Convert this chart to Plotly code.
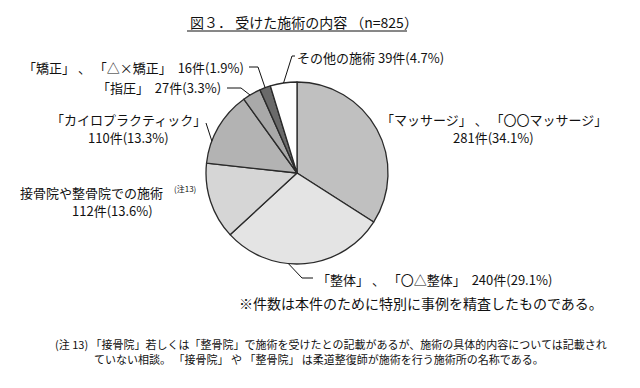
import math
import plotly.graph_objects as go

# ---- data ----
categories = ["「マッサージ」 、 「〇〇マッサージ」", "「整体」 、 「〇△整体」", "接骨院や整骨院での施術",
              "「カイロプラクティック」", "「指圧」", "「矯正」 、 「△×矯正」", "その他の施術"]
counts = [281, 240, 112, 110, 27, 16, 39]
percents = ["34.1", "29.1", "13.6", "13.3", "3.3", "1.9", "4.7"]
colors = ["#c0c0c0", "#e4e4e4", "#d6d6d6", "#b3b3b3", "#a9a9a9", "#6a6a6a", "#ffffff"]
title = "図３． 受けた施術の内容 （n=825）"
note_star = "※件数は本件のために特別に事例を精査したものである。"
note_1 = "(注 13) 「接骨院」若しくは「整骨院」で施術を受けたとの記載があるが、施術の具体的内容については記載され"
note_2 = "ていない相談。 「接骨院」 や 「整骨院」 は柔道整復師が施術を行う施術所の名称である。"

W, H = 640, 388
CX, CY, R = 297, 173, 91
FONT = "Noto Sans CJK JP, Noto Sans, sans-serif"


def px(x, y):
    return x / W, 1 - y / H


fig = go.Figure(go.Pie(
    labels=categories, values=counts, sort=False, direction="clockwise", rotation=0,
    marker=dict(colors=colors, line=dict(color="#2a2a2a", width=1.3)),
    textinfo="none", hoverinfo="label+value", showlegend=False,
    domain=dict(x=[(CX - R) / W, (CX + R) / W], y=[1 - (CY + R) / H, 1 - (CY - R) / H]),
))

total = sum(counts)
cum = [0]
for c in counts:
    cum.append(cum[-1] + c)


def edge(i, t):
    f = (cum[i] + t * counts[i]) / total
    a = 2 * math.pi * f
    return CX + R * math.sin(a), CY - R * math.cos(a)


def lbl(i):
    return f"{counts[i]}件({percents[i]}%)"


annotations = []
shapes = []


def text(x, y, s, anchor="center", size=13):
    xx, yy = px(x, y)
    annotations.append(dict(x=xx, y=yy, xref="paper", yref="paper", text=s, showarrow=False,
                            xanchor=anchor, yanchor="middle",
                            font=dict(family=FONT, size=size, color="#111")))


def path(points):
    d = ""
    for k, (x, y) in enumerate(points):
        xx, yy = px(x, y)
        d += ("M" if k == 0 else "L") + f"{xx},{yy} "
    shapes.append(dict(type="path", path=d, xref="paper", yref="paper",
                       line=dict(color="#111", width=1)))


# title + underline
text(188, 22, title, anchor="left", size=14)
path([(187, 31), (407, 31)])

# labels
text(494, 119, categories[0])
text(493, 137.5, lbl(0))
text(315, 279, categories[1] + "  " + lbl(1), anchor="left")
path([edge(1, 0.6), (302, 278), (313, 278)])
text(18, 192, categories[2], anchor="left")
text(172, 188, "(注13)", anchor="left", size=8)
text(112, 211, lbl(2))
text(128, 119, categories[3])
text(128, 137.5, lbl(3))
path([(206, 123), edge(3, 0.3)])
text(223, 88, categories[4] + "  " + lbl(4), anchor="right")
path([(227, 88), (241, 88), edge(4, 0.4)])
text(246, 67, categories[5] + "  " + lbl(5), anchor="right")
path([(249, 67), (258, 67), edge(5, 0.5)])
text(295, 57, categories[6] + " " + lbl(6), anchor="left")
path([(295, 56), (292, 56), edge(6, 0.5)])

# notes
text(605, 303, note_star, anchor="right", size=14)
text(53, 344, note_1, anchor="left", size=11)
text(92, 359, note_2, anchor="left", size=11)

fig.update_layout(width=W, height=H, margin=dict(l=0, r=0, t=0, b=0),
                  paper_bgcolor="white", plot_bgcolor="white",
                  annotations=annotations, shapes=shapes)
fig.write_html("out.html")
